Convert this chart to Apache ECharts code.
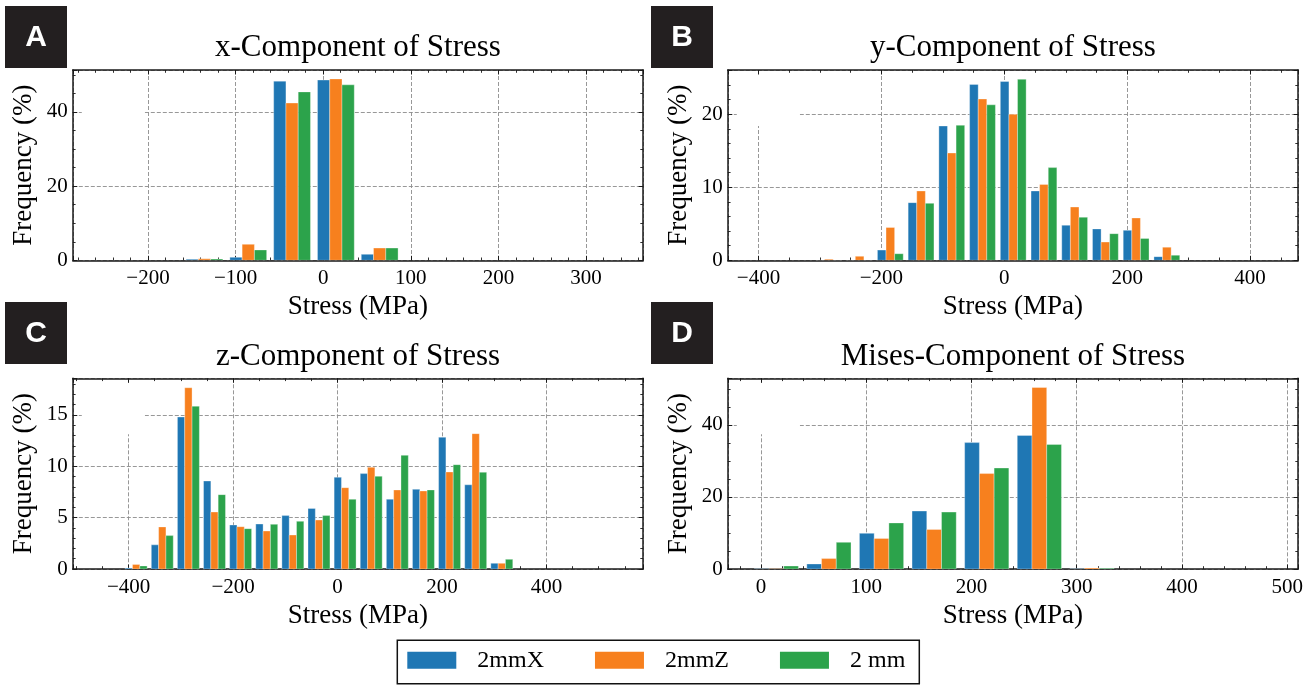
<!DOCTYPE html>
<html>
<head>
<meta charset="utf-8">
<title>Stress component histograms</title>
<script src="https://cdn.jsdelivr.net/npm/echarts@6/dist/echarts.min.js"></script>
<style>
  html, body { margin: 0; padding: 0; background: #fff; }
  #chart { width: 1315px; height: 685px; }
</style>
</head>
<body>
<div id="chart"></div>
<script>
// ---- data -------------------------------------------------------------
const seriesNames = ['2mmX', '2mmZ', '2 mm'];
const panelLetters = ['A', 'B', 'C', 'D'];
const panelTitles = ['x-Component of Stress', 'y-Component of Stress', 'z-Component of Stress', 'Mises-Component of Stress'];
const xAxisTitle = 'Stress (MPa)';
const yAxisTitle = 'Frequency (%)';

// x-component: bin centres (MPa) and frequencies (%)
const xBins  = [-135.5, -85.5, -35.5, 14.5, 64.5];
const x2mmX  = [0.3, 0.8, 48.3, 48.6, 1.6];
const x2mmZ  = [0.4, 4.3, 42.4, 48.9, 3.3];
const x2mm   = [0.35, 2.8, 45.4, 47.3, 3.3];

// y-component
const yBins  = [-285.5, -235.5, -185.5, -135.5, -85.5, -35.5, 14.5, 64.5, 114.5, 164.5, 214.5, 264.5];
const y2mmX  = [0, 0, 1.4, 7.9, 18.4, 24.1, 24.5, 9.5, 4.8, 4.3, 4.1, 0.5];
const y2mmZ  = [0.15, 0.55, 4.5, 9.5, 14.7, 22.1, 20.0, 10.4, 7.3, 2.5, 5.8, 1.8];
const y2mm   = [0, 0, 0.9, 7.8, 18.5, 21.3, 24.8, 12.7, 5.9, 3.65, 3.0, 0.7];

// z-component
const zBins  = [-385.5, -335.5, -285.5, -235.5, -185.5, -135.5, -85.5, -35.5, 14.5, 64.5, 114.5, 164.5, 214.5, 264.5, 314.5];
const z2mmX  = [0.1, 2.35, 14.8, 8.57, 4.29, 4.38, 5.2, 5.9, 8.93, 9.29, 6.79, 7.76, 12.83, 8.2, 0.55];
const z2mmZ  = [0.45, 4.1, 17.65, 5.55, 4.12, 3.7, 3.31, 4.77, 7.92, 9.9, 7.7, 7.6, 9.45, 13.18, 0.55];
const z2mm   = [0.3, 3.25, 15.85, 7.24, 3.93, 4.35, 4.64, 5.2, 6.79, 9.03, 11.07, 7.7, 10.16, 9.42, 0.94];

// von Mises
const mBins  = [14.5, 64.5, 114.5, 164.5, 214.5, 264.5, 314.5];
const m2mmX  = [0.05, 1.4, 9.9, 16.1, 35.1, 37.1, 0.05];
const m2mmZ  = [0.05, 2.9, 8.5, 11.0, 26.5, 50.4, 0.3];
const m2mm   = [0.83, 7.4, 12.8, 15.8, 28.05, 34.6, 0.2];

// axis extents and tick steps per panel: [min, max, major step, minor step]
const xScales = [[-285.8, 365.2, 100, 20], [-450, 478.1, 200, 50], [-506.8, 585, 200, 50], [-31.6, 510.4, 100, 20]];
const yScales = [[0, 51.3, 20, 5], [0, 26.07, 10, 2], [0, 18.57, 5, 1], [0, 52.96, 20, 5]];

// ---- layout & style -------------------------------------------------
const plotBoxes = [[72.8, 70, 570.3, 190.3], [727.8, 70, 570.3, 190.3], [72.8, 378.3, 570.3, 190.7], [727.8, 378.3, 570.3, 190.7]];
const letterBoxes = [[5, 6], [651, 6], [5, 302], [651, 302]];
const titleY = [48, 48, 356.5, 356.5];
const legendFrame = [397.3, 640.3, 522, 43.4];
const colors = ['#1f77b4', '#f7801e', '#2ca34b'];
const SERIF = "'Liberation Serif', 'Times New Roman', serif";
const BAR_W = 14;           // width of one bar in MPa
const INK = '#1a1a1a';

const panelData = [
  { bins: xBins, values: [x2mmX, x2mmZ, x2mm] },
  { bins: yBins, values: [y2mmX, y2mmZ, y2mm] },
  { bins: zBins, values: [z2mmX, z2mmZ, z2mm] },
  { bins: mBins, values: [m2mmX, m2mmZ, m2mm] }
];

function tickFormatter(step) {
  return function (v) {
    const r = v / step;
    if (Math.abs(r - Math.round(r)) > 1e-6) return '';
    return String(Math.round(v)).replace('-', '\u2212');
  };
}

// grouped histogram bars: series k sits at offset (k-1) bar widths from the bin centre
function makeBar(k) {
  return function (params, api) {
    const centre = api.value(0);
    const val = api.value(1);
    const x0 = centre + (k - 1) * BAR_W - BAR_W / 2;
    const p0 = api.coord([x0, 0]);
    const p1 = api.coord([x0 + BAR_W, val]);
    return {
      type: 'rect',
      shape: { x: p0[0], y: p1[1], width: p1[0] - p0[0], height: p0[1] - p1[1] },
      style: { fill: api.visual('color'), stroke: 'rgba(255,255,255,0.55)', lineWidth: 0.6 }
    };
  };
}

const grids = [], xAxes = [], yAxes = [], series = [], graphics = [];

panelData.forEach(function (p, i) {
  const box = plotBoxes[i];
  const xs = xScales[i], ys = yScales[i];
  grids.push({ left: box[0], top: box[1], width: box[2], height: box[3], containLabel: false, outerBoundsMode: 'none' });

  const frame = { show: true, onZero: false, lineStyle: { color: INK, width: 1.5 } };
  const majorTick = { show: true, inside: true, length: 4.5, lineStyle: { color: INK, width: 1 } };
  const minorTick = { show: true, inside: true, length: 2.8, lineStyle: { color: INK, width: 0.9 } };
  const grid = { show: true, lineStyle: { color: '#8c8c8c', type: [4, 2], width: 0.9 } };
  const noLabel = { show: false };
  const noSplit = { show: false };

  const xi = xAxes.length;
  const xCommon = { type: 'value', gridIndex: i, min: xs[0], max: xs[1] };
  xAxes.push(Object.assign({}, xCommon, {
    position: 'bottom', minInterval: xs[2], maxInterval: xs[2],
    axisLine: frame, axisTick: majorTick, splitLine: grid,
    axisLabel: { formatter: tickFormatter(xs[2]), fontSize: 21, fontFamily: SERIF, color: '#000', margin: 8 },
    name: xAxisTitle, nameLocation: 'middle', nameGap: 33,
    nameTextStyle: { fontSize: 27, fontFamily: SERIF, color: '#000' }
  }));
  xAxes.push(Object.assign({}, xCommon, {
    position: 'top', minInterval: xs[2], maxInterval: xs[2],
    axisLine: frame, axisTick: majorTick, axisLabel: noLabel, splitLine: noSplit
  }));
  ['bottom', 'top'].forEach(function (pos) {
    xAxes.push(Object.assign({}, xCommon, {
      position: pos, minInterval: xs[3], maxInterval: xs[3],
      axisLine: { show: false, onZero: false }, axisTick: minorTick, axisLabel: noLabel, splitLine: noSplit
    }));
  });

  const yi = yAxes.length;
  const yCommon = { type: 'value', gridIndex: i, min: ys[0], max: ys[1] };
  yAxes.push(Object.assign({}, yCommon, {
    position: 'left', minInterval: ys[2], maxInterval: ys[2],
    axisLine: frame, axisTick: majorTick, splitLine: grid,
    axisLabel: { formatter: tickFormatter(ys[2]), fontSize: 21, fontFamily: SERIF, color: '#000', margin: 5 },
    name: yAxisTitle, nameLocation: 'middle', nameGap: 35,
    nameTextStyle: { fontSize: 27, fontFamily: SERIF, color: '#000' }
  }));
  yAxes.push(Object.assign({}, yCommon, {
    position: 'right', minInterval: ys[2], maxInterval: ys[2],
    axisLine: frame, axisTick: majorTick, axisLabel: noLabel, splitLine: noSplit
  }));
  ['left', 'right'].forEach(function (pos) {
    yAxes.push(Object.assign({}, yCommon, {
      position: pos, minInterval: ys[3], maxInterval: ys[3],
      axisLine: { show: false, onZero: false }, axisTick: minorTick, axisLabel: noLabel, splitLine: noSplit
    }));
  });

  p.values.forEach(function (vals, k) {
    series.push({
      type: 'custom',
      name: seriesNames[k],
      xAxisIndex: xi,
      yAxisIndex: yi,
      itemStyle: { color: colors[k] },
      encode: { x: 0, y: 1 },
      clip: true,
      z: 2,
      renderItem: makeBar(k),
      data: p.bins.map(function (c, j) { return [c, vals[j]]; })
    });
  });

  // blank inset area in the upper-left corner of each plot
  graphics.push({
    type: 'rect', z: 1, silent: true,
    shape: { x: box[0] + 9, y: box[1] + 5, width: 63, height: 51 },
    style: { fill: '#fff' }
  });

  // panel title
  graphics.push({
    type: 'text', z: 5, x: box[0] + box[2] / 2, y: titleY[i],
    style: {
      text: panelTitles[i], fill: '#000', fontSize: 31, fontFamily: SERIF,
      align: 'center', verticalAlign: 'middle', textAlign: 'center', textVerticalAlign: 'middle'
    }
  });

  // panel letter badge
  const lb = letterBoxes[i];
  graphics.push({
    type: 'rect', z: 5, shape: { x: lb[0], y: lb[1], width: 62, height: 62 }, style: { fill: '#231f20' }
  });
  graphics.push({
    type: 'text', z: 6, x: lb[0] + 31, y: lb[1] + 32,
    style: {
      text: panelLetters[i], fill: '#fff', fontSize: 30, fontWeight: 'bold',
      fontFamily: "'Liberation Sans', Arial, sans-serif",
      align: 'center', verticalAlign: 'middle', textAlign: 'center', textVerticalAlign: 'middle'
    }
  });
});

// legend frame
graphics.push({
  type: 'rect', z: 4, silent: true,
  shape: { x: legendFrame[0], y: legendFrame[1], width: legendFrame[2], height: legendFrame[3] },
  style: { fill: '#fff', stroke: '#111', lineWidth: 1.5 }
});

const chart = echarts.init(document.getElementById('chart'), null, { renderer: 'canvas' });
chart.setOption({
  animation: false,
  backgroundColor: '#fff',
  grid: grids,
  xAxis: xAxes,
  yAxis: yAxes,
  series: series,
  legend: {
    data: seriesNames,
    left: 407.3, top: 648.3,
    orient: 'horizontal',
    icon: 'rect',
    itemWidth: 49, itemHeight: 17, itemGap: 51,
    padding: 0,
    z: 10,
    selectedMode: false,
    textStyle: { fontSize: 24, fontFamily: SERIF, color: '#000', padding: [0, 0, 0, 16] }
  },
  graphic: { elements: graphics }
});
</script>
</body>
</html>
